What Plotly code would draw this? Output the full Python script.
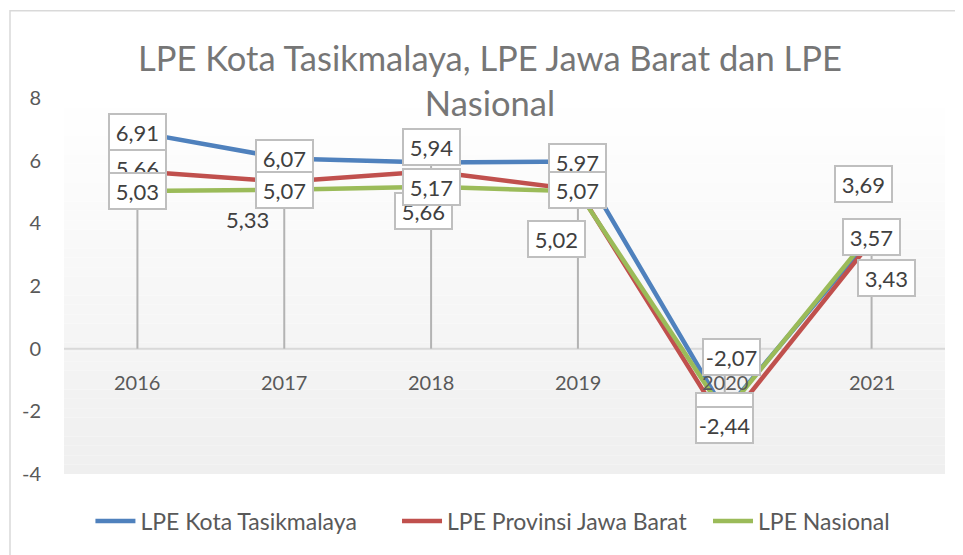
import plotly.graph_objects as go

# ---- data ----
years = ["2016", "2017", "2018", "2019", "2020", "2021"]
lpe_tasikmalaya = [6.91, 6.07, 5.94, 5.97, -2.00, 3.57]
lpe_jabar = [5.66, 5.33, 5.66, 5.07, -2.44, 3.43]
lpe_nasional = [5.03, 5.07, 5.17, 5.02, -2.07, 3.69]
y_ticks = [-4, -2, 0, 2, 4, 6, 8]
series_names = ["LPE Kota Tasikmalaya", "LPE Provinsi Jawa Barat", "LPE Nasional"]
title_text = "LPE Kota Tasikmalaya, LPE Jawa Barat dan LPE<br>Nasional"

# ---- styling ----
colors = ["#4f81bd", "#c0504d", "#9bbb59"]
FONT = "Lato"
series = [lpe_tasikmalaya, lpe_jabar, lpe_nasional]
legend_ids = ["legend", "legend2", "legend3"]
legend_x = [0.030, 0.378, 0.731]

# manual label placement (pixel offsets dx, dy with dy down-positive)
label_offsets = [
    [(0, 0), (0, 0), (0, -16), (0, 0), (0, 0), (0, 0)],
    [(0, -3), (-37, 38), (-8, 40), (0, 0), (0, 0), (15, 37)],
    [(0, 0), (0, 0), (0, 0), (-21, 48), (7, -57), (-8, -49)],
]
no_box = {(1, 1)}
bottom_text = {(0, 4)}  # label hidden behind a neighbouring box in the original

fig = go.Figure()

# drop lines from axis to extreme point per category
dx, dy = [], []
for i, yr in enumerate(years):
    vals = [s[i] for s in series]
    ext = max(vals) if max(vals) > 0 else min(vals)
    dx += [i, i, None]
    dy += [0, ext, None]
fig.add_trace(go.Scatter(x=dx, y=dy, mode="lines", line=dict(color="#b3b3b3", width=2),
                         showlegend=False, hoverinfo="skip"))

xs = list(range(len(years)))
for name, vals, c, lg in zip(series_names, series, colors, legend_ids):
    fig.add_trace(go.Scatter(x=xs, y=vals, mode="lines", name=name, legend=lg,
                             line=dict(color=c, width=4.5)))

for si, vals in enumerate(series):
    for i, v in enumerate(vals):
        ox, oy = label_offsets[si][i]
        boxed = (si, i) not in no_box
        kw = dict(x=i, y=v, xref="x", yref="y", text=f"{v:.2f}".replace(".", ","),
                  showarrow=False, xshift=ox, yshift=-oy,
                  font=dict(family=FONT, size=22, color="#404040"))
        if boxed:
            kw.update(bgcolor="white", bordercolor="#bfbfbf", borderwidth=2, borderpad=1,
                      width=53, height=32)
        if (si, i) in bottom_text:
            kw.update(valign="bottom")
        fig.add_annotation(**kw)

for i, yr in enumerate(years):
    fig.add_annotation(x=i, y=0, xref="x", yref="y", text=yr, showarrow=False,
                       yshift=-33, font=dict(family=FONT, size=20, color="#595959"))

# gradient plot-area background
n = 40
for k in range(n):
    t0, t1 = k / n, (k + 1) / n
    frac = 1 - (t0 + t1) / 2
    g = int(round(255 - 16 * frac))
    fig.add_shape(type="rect", xref="paper", yref="paper", x0=0, x1=1, y0=t0, y1=t1,
                  fillcolor=f"rgb({g},{g},{g})", line=dict(width=0), layer="below")
fig.add_shape(type="line", xref="paper", yref="y", x0=0, x1=1, y0=0, y1=0,
              line=dict(color="#d9d9d9", width=2), layer="below")
fig.add_shape(type="rect", xref="paper", yref="paper", x0=-0.0613, x1=1.2, y0=-0.4, y1=1.232,
              line=dict(color="#d9d9d9", width=1.5))

legend_style = dict(orientation="h", xanchor="left", y=-0.125, yanchor="middle",
                    font=dict(family=FONT, size=23, color="#595959"),
                    bgcolor="rgba(0,0,0,0)", itemwidth=40)

fig.update_layout(
    width=955, height=547,
    margin=dict(l=56, r=18, t=90, b=75),
    paper_bgcolor="white", plot_bgcolor="white",
    title=dict(text=title_text, x=482 / 955, xanchor="center", y=1 - 63 / 547, yanchor="middle",
               font=dict(family=FONT, size=34.5, color="#767676")),
    xaxis=dict(range=[-0.5, 5.5], showticklabels=False, showgrid=False, zeroline=False,
               showline=False),
    yaxis=dict(range=[-4, 8], tickvals=y_ticks, ticktext=[str(v) for v in y_ticks],
               showgrid=False, zeroline=False, showline=False,
               ticklabelstandoff=22, tickfont=dict(family=FONT, size=20, color="#595959")),
    legend=dict(x=legend_x[0], **legend_style),
    legend2=dict(x=legend_x[1], **legend_style),
    legend3=dict(x=legend_x[2], **legend_style),
    showlegend=True,
)

fig.write_html("out.html")
